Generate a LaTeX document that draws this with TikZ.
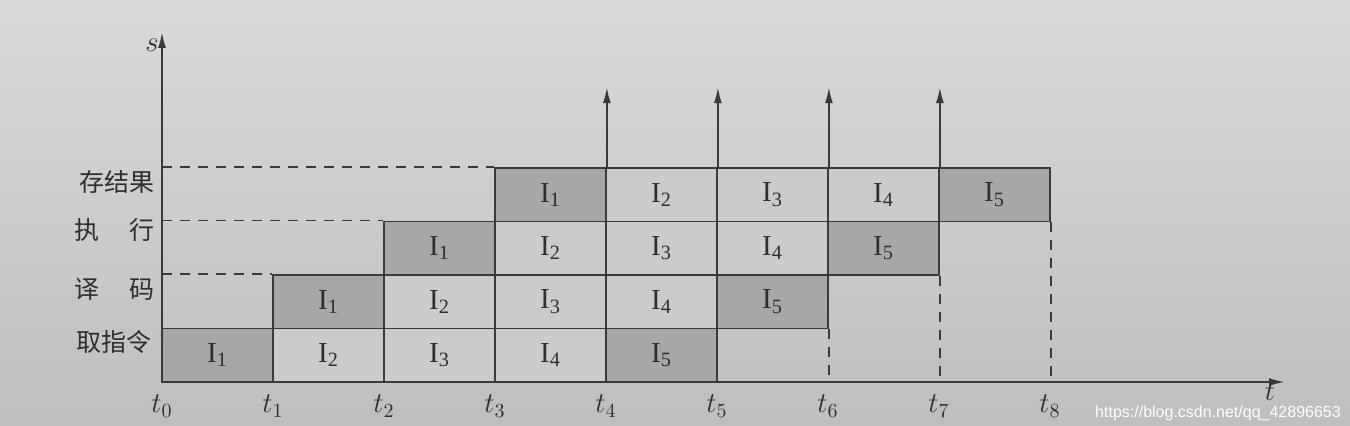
\documentclass[tikz,border=0pt]{standalone}
\usepackage{fontspec}
\setmainfont{Liberation Serif}
\newfontfamily\cjk{Noto Sans CJK SC}
\newfontfamily\wmfont{Liberation Sans}
\usetikzlibrary{arrows.meta,calc}
\definecolor{bgtop}{HTML}{DAD9DC}
\definecolor{bgbot}{HTML}{BEBDC0}
\definecolor{lightcell}{HTML}{CBCACD}
\definecolor{darkcell}{HTML}{A7A6A9}
\definecolor{linecol}{HTML}{3A393C}
\definecolor{textcol}{HTML}{2E2D30}
\tikzset{
  cellbox/.style={draw=linecol, line width=0.9pt, minimum width=55.5pt, minimum height=26.75pt,
    inner sep=0pt, text=textcol, font=\fontsize{14.5}{16}\selectfont},
  dashline/.style={draw=linecol, line width=0.9pt, dash pattern=on 5pt off 4pt},
  axisline/.style={draw=linecol, line width=1pt, -{Latex[length=8pt,width=4pt]}},
  stagelabel/.style={anchor=east, text=textcol, inner sep=0pt, font=\cjk\fontsize{12.5}{14}\selectfont},
  timelabel/.style={text=textcol, inner sep=0pt, font=\fontsize{14}{16}\selectfont}
}
\begin{document}
\begin{tikzpicture}[x=0.5pt,y=-0.5pt]
\useasboundingbox (0,0) rectangle (1350,426);
\fill[top color=bgtop, bottom color=bgbot] (0,0) rectangle (1350,426);

\coordinate (O) at (162,382);
\coordinate (send) at (162,32);
\coordinate (tend) at (1285,382);

% cells
\foreach \k in {1,...,4}{
  \foreach \i in {1,...,5}{
    \pgfmathtruncatemacro\j{\i+\k-2}
    \ifnum\i=1 \def\cf{darkcell}\else\ifnum\i=5 \def\cf{darkcell}\else\def\cf{lightcell}\fi\fi
    \node[cellbox, fill=\cf] (c-\k-\i) at ({162+111*(\j+0.5)},{382-53.5*(\k-0.5)}) {I\textsubscript{\i}};
  }
}

% axes
\draw[axisline] (O) -- (send);
\draw[axisline] (O) -- (tend);
\node[timelabel] (slab) at (152,45) {$s$};
\node[timelabel] (tlab) at (1270,392) {$t$};

% dashed guide lines from the s axis
\draw[dashline] (c-2-1.north west -| O) -- (c-2-1.north west);
\draw[dashline] (c-3-1.north west -| O) -- (c-3-1.north west);
\draw[dashline] (c-4-1.north west -| O) -- (c-4-1.north west);

% dashed drop lines
\draw[dashline] (c-2-5.south east) -- (c-2-5.south east |- O);
\draw[dashline] (c-3-5.south east) -- (c-3-5.south east |- O);
\draw[dashline] (c-4-5.south east) -- (c-4-5.south east |- O);

% vertical arrows
\coordinate (a4) at (c-4-1.north east);
\coordinate (a5) at (c-4-2.north east);
\coordinate (a6) at (c-4-3.north east);
\coordinate (a7) at (c-4-4.north east);
\foreach \n in {4,5,6,7}{
  \coordinate (top\n) at ($(a\n)+(0,-80)$);
  \draw[axisline] (a\n) -- (top\n);
}

% stage labels
\node[stagelabel] (l1) at (152,342) {取指令};
\node[stagelabel] (l2) at (155,289) {译\hspace{1.2em}码};
\node[stagelabel] (l3) at (155,230) {执\hspace{1.2em}行};
\node[stagelabel] (l4) at (155,182) {存结果};

% time labels
\foreach \n in {0,...,8}{
  \node[timelabel] (t\n) at ({162+111*\n},406) {$t_{\n}$};
}

% watermark
\node[text=white, inner sep=0pt, font=\wmfont\fontsize{8}{9}\selectfont] (wm) at (1218,413) {https://blog.csdn.net/qq\_42896653};
\end{tikzpicture}
\end{document}
